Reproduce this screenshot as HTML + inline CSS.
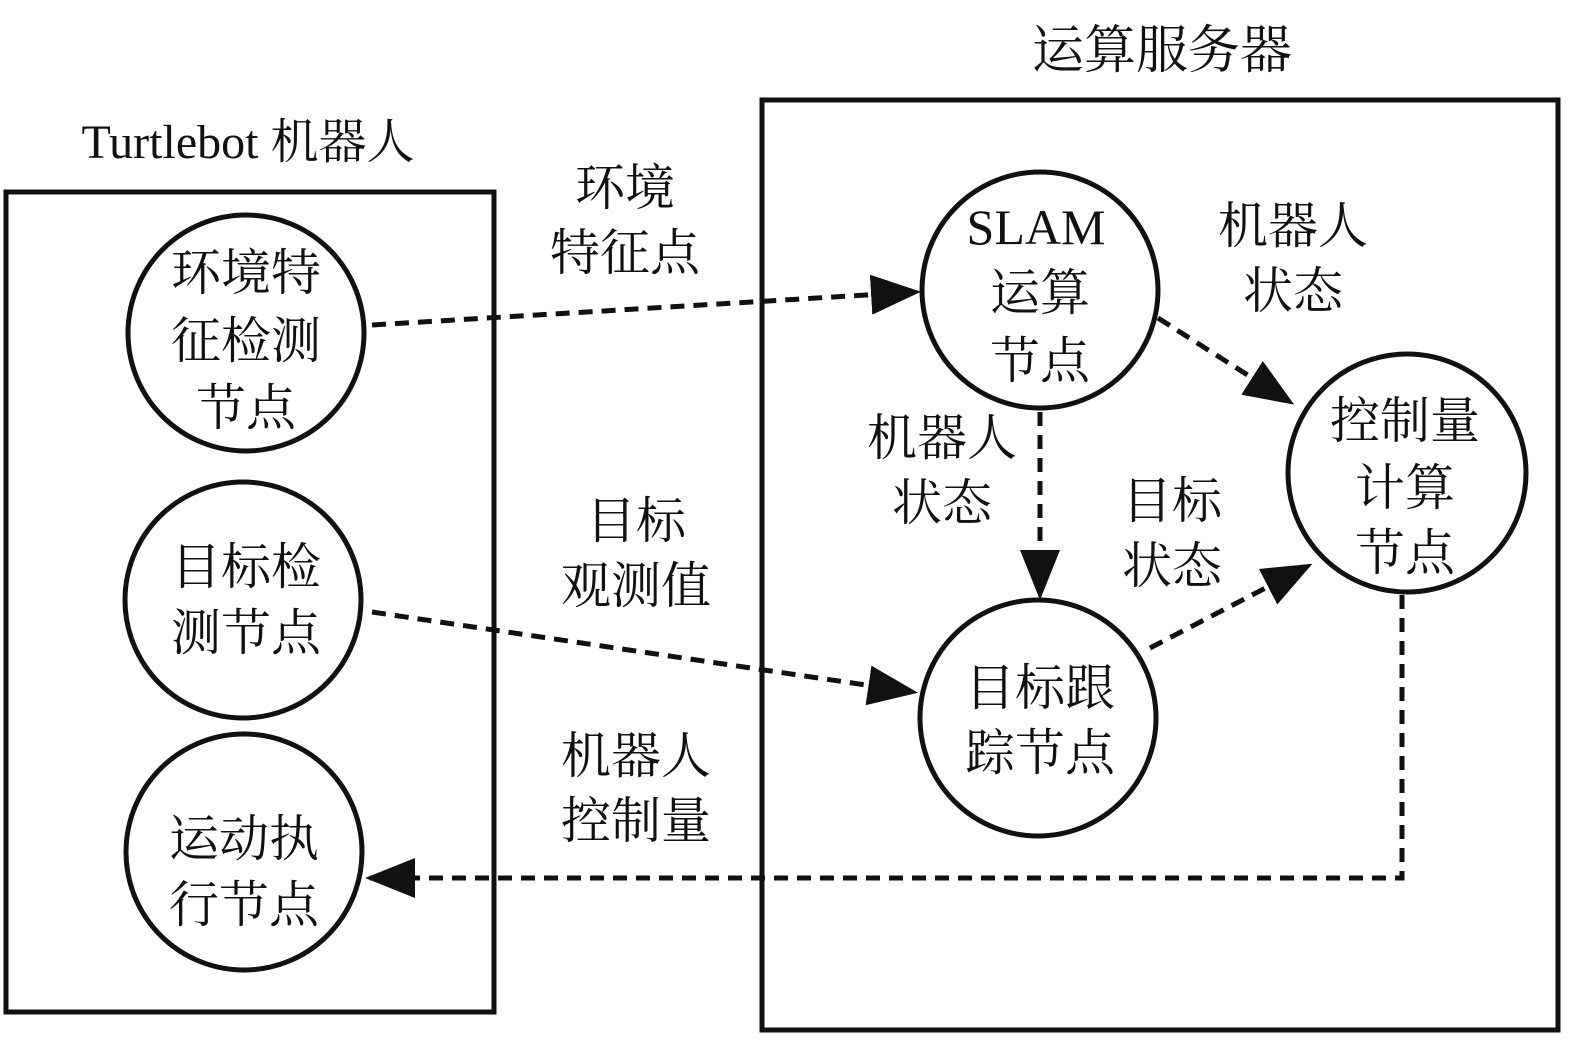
<!DOCTYPE html>
<html><head><meta charset="utf-8"><style>
html,body{margin:0;padding:0;background:#fff}
text{font-family:"Liberation Serif","Noto Serif CJK SC",serif;fill:#111}
</style></head><body>
<svg width="1575" height="1043" viewBox="0 0 1575 1043" xmlns="http://www.w3.org/2000/svg">
<defs>
<marker id="a" markerWidth="10" markerHeight="8" refX="9" refY="4" orient="auto" markerUnits="strokeWidth">
<path d="M0,0 L10,4 L0,8 Z" fill="#111"/>
</marker>
</defs>
<g fill="none" stroke="#111" stroke-width="5">
<rect x="6" y="192" width="488" height="820"/>
<rect x="762" y="100" width="796" height="930"/>
<circle cx="246" cy="333" r="118"/>
<circle cx="243" cy="600" r="118"/>
<circle cx="244" cy="852" r="118"/>
<circle cx="1040" cy="290" r="118"/>
<circle cx="1407" cy="473" r="119"/>
<circle cx="1038" cy="718" r="118"/>
</g>
<g fill="none" stroke="#111" stroke-width="5" stroke-dasharray="14,9" marker-end="url(#a)">
<path d="M372,325 L916,292"/>
<path d="M372,612 L913,692"/>
<path d="M1040,412 L1040,595"/>
<path d="M1158,318 L1290,402"/>
<path d="M1150,648 L1308,566"/>
<path d="M1402,595 L1402,878 L370,878"/>
</g>
<g font-size="50" text-anchor="middle">
<text x="248" y="158" font-size="48">Turtlebot 机器人</text>
<text x="1162" y="68" font-size="52">运算服务器</text>
<text x="246" y="290">环境特</text><text x="246" y="358">征检测</text><text x="246" y="425">节点</text>
<text x="246" y="584">目标检</text><text x="246" y="650">测节点</text>
<text x="244" y="856">运动执</text><text x="244" y="922">行节点</text>
<text x="1036" y="244">SLAM</text><text x="1040" y="310">运算</text><text x="1040" y="378">节点</text>
<text x="1405" y="438">控制量</text><text x="1405" y="505">计算</text><text x="1405" y="570">节点</text>
<text x="1040" y="705">目标跟</text><text x="1040" y="770">踪节点</text>
<text x="625" y="205">环境</text><text x="625" y="270">特征点</text>
<text x="636" y="538">目标</text><text x="636" y="603">观测值</text>
<text x="636" y="773">机器人</text><text x="636" y="838">控制量</text>
<text x="1293" y="243">机器人</text><text x="1293" y="308">状态</text>
<text x="942" y="455">机器人</text><text x="942" y="520">状态</text>
<text x="1172" y="518">目标</text><text x="1172" y="583">状态</text>
</g>
</svg>
</body></html>
